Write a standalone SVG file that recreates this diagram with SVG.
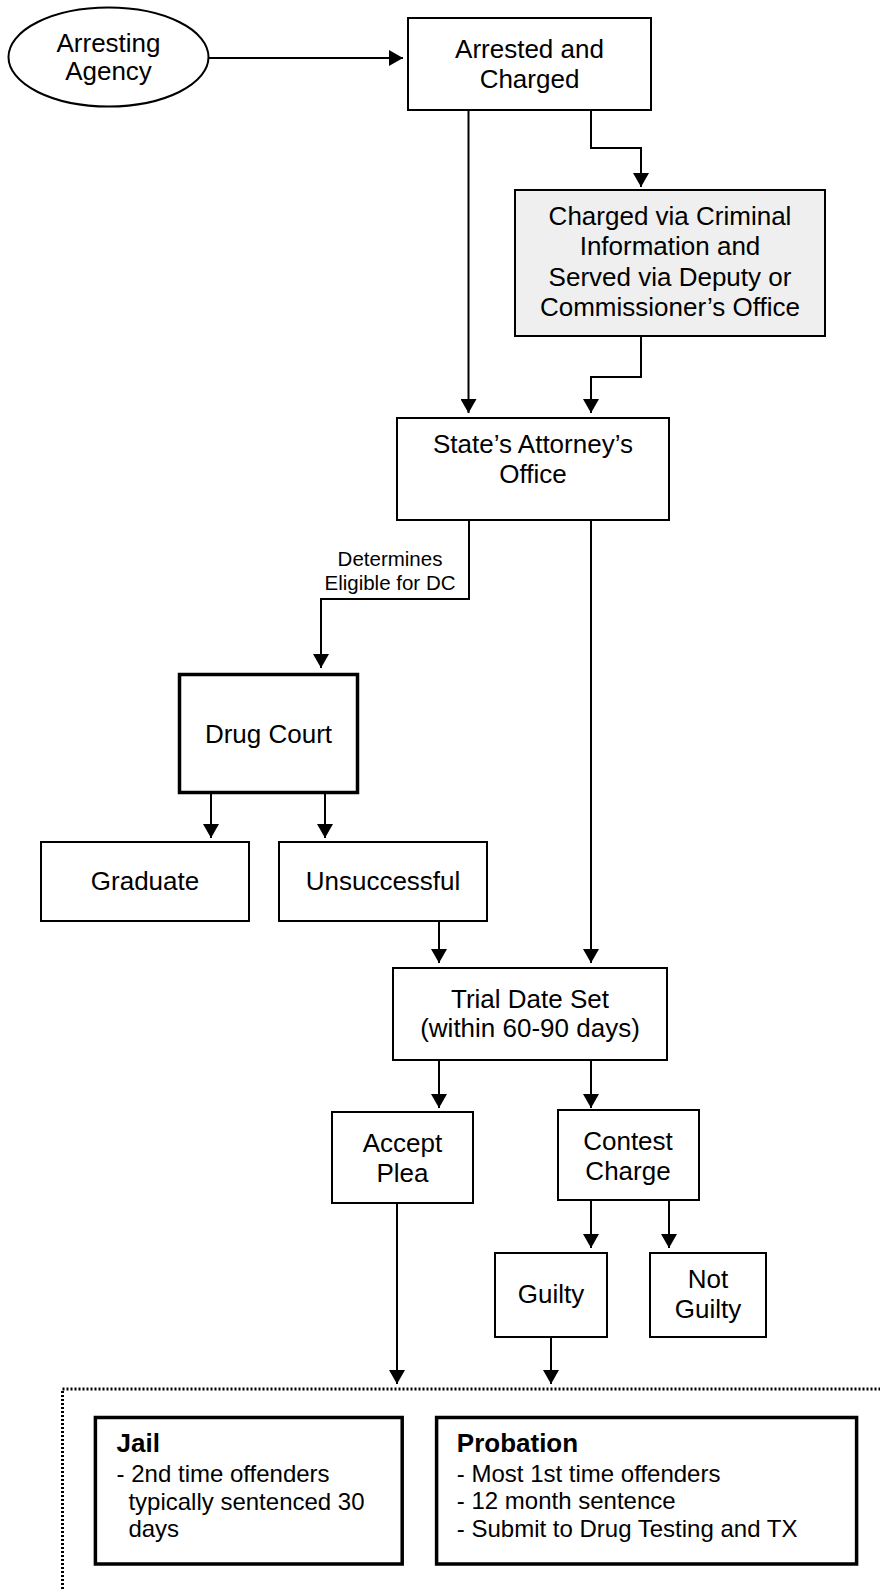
<svg xmlns="http://www.w3.org/2000/svg" width="880" height="1589" viewBox="0 0 880 1589">
<style>
.box{fill:#fff;stroke:#000;stroke-width:2}
.thick{fill:#fff;stroke:#000;stroke-width:3.5}
.gray{fill:#efefef;stroke:#000;stroke-width:2}
.t{font-family:"Liberation Sans",Arial,sans-serif;font-size:26px;fill:#000;text-anchor:middle}
.lbl{font-family:"Liberation Sans",Arial,sans-serif;font-size:20.5px;fill:#000;text-anchor:middle}
.l{font-family:"Liberation Sans",Arial,sans-serif;font-size:24px;fill:#000}
.b{font-family:"Liberation Sans",Arial,sans-serif;font-size:26px;font-weight:bold;fill:#000}
.c{fill:none;stroke:#000;stroke-width:2;marker-end:url(#ah)}
</style>
<defs>
<marker id="ah" viewBox="0 0 14 16" refX="14" refY="8" markerUnits="userSpaceOnUse" markerWidth="14" markerHeight="16" orient="auto">
<path d="M0,0 L14,8 L0,16 z" fill="#000"/>
</marker>
</defs>
<rect width="880" height="1589" fill="#fff"/>

<g id="connectors">
<path class="c" d="M209,58 H403"/>
<path class="c" d="M468.5,110 V413"/>
<path class="c" d="M591,110 V148 H641 V187"/>
<path class="c" d="M641,336 V377 H591 V413"/>
<path class="c" d="M469,520 V599 H321 V668"/>
<path class="c" d="M211,794 V838"/>
<path class="c" d="M325,794 V838"/>
<path class="c" d="M439,921 V963"/>
<path class="c" d="M591,520 V963"/>
<path class="c" d="M439,1060 V1108"/>
<path class="c" d="M591,1060 V1108"/>
<path class="c" d="M591,1200 V1248"/>
<path class="c" d="M669,1200 V1248"/>
<path class="c" d="M397,1203 V1384"/>
<path class="c" d="M551,1337 V1384"/>
</g>

<g id="sentence-frame">
<rect x="62.5" y="1389" width="900" height="300" fill="none" stroke="#000" stroke-width="3" stroke-dasharray="2 2"/>
</g>

<g id="arresting-agency">
<ellipse cx="108.5" cy="57" rx="100" ry="49.5" fill="#fff" stroke="#000" stroke-width="2"/>
<text class="t" x="108.5" y="52">Arresting</text>
<text class="t" x="108.5" y="80">Agency</text>
</g>

<g id="arrested-charged">
<rect class="box" x="408" y="18" width="243" height="92"/>
<text class="t" x="529.5" y="58">Arrested and</text>
<text class="t" x="529.5" y="88">Charged</text>
</g>

<g id="criminal-information">
<rect class="gray" x="515" y="190" width="310" height="146"/>
<text class="t" x="670" y="225">Charged via Criminal</text>
<text class="t" x="670" y="255">Information and</text>
<text class="t" x="670" y="286">Served via Deputy or</text>
<text class="t" x="670" y="316">Commissioner’s Office</text>
</g>

<g id="states-attorney">
<rect class="box" x="397" y="418" width="272" height="102"/>
<text class="t" x="533" y="453">State’s Attorney’s</text>
<text class="t" x="533" y="483">Office</text>
</g>

<g id="eligible-label">
<text class="lbl" x="390" y="566">Determines</text>
<text class="lbl" x="390" y="590">Eligible for DC</text>
</g>

<g id="drug-court">
<rect class="thick" x="179.5" y="674.5" width="178" height="118"/>
<text class="t" x="268.5" y="743">Drug Court</text>
</g>

<g id="graduate">
<rect class="box" x="41" y="842" width="208" height="79"/>
<text class="t" x="145" y="890">Graduate</text>
</g>

<g id="unsuccessful">
<rect class="box" x="279" y="842" width="208" height="79"/>
<text class="t" x="383" y="890">Unsuccessful</text>
</g>

<g id="trial-date">
<rect class="box" x="393" y="968" width="274" height="92"/>
<text class="t" x="530" y="1008">Trial Date Set</text>
<text class="t" x="530" y="1037">(within 60-90 days)</text>
</g>

<g id="accept-plea">
<rect class="box" x="332" y="1112" width="141" height="91"/>
<text class="t" x="402.5" y="1152">Accept</text>
<text class="t" x="402.5" y="1182">Plea</text>
</g>

<g id="contest-charge">
<rect class="box" x="558" y="1110" width="141" height="90"/>
<text class="t" x="628" y="1150">Contest</text>
<text class="t" x="628" y="1180">Charge</text>
</g>

<g id="guilty">
<rect class="box" x="495" y="1253" width="112" height="84"/>
<text class="t" x="551" y="1303">Guilty</text>
</g>

<g id="not-guilty">
<rect class="box" x="650" y="1253" width="116" height="84"/>
<text class="t" x="708" y="1288">Not</text>
<text class="t" x="708" y="1318">Guilty</text>
</g>

<g id="jail">
<rect class="thick" x="95.4" y="1417.5" width="306.8" height="146.5"/>
<text class="b" x="116.6" y="1452">Jail</text>
<text class="l" x="116.6" y="1482">- 2nd time offenders</text>
<text class="l" x="128.4" y="1510">typically sentenced 30</text>
<text class="l" x="128.4" y="1537">days</text>
</g>

<g id="probation">
<rect class="thick" x="436.6" y="1417.5" width="420" height="146.5"/>
<text class="b" x="456.8" y="1452">Probation</text>
<text class="l" x="456.8" y="1482">- Most 1st time offenders</text>
<text class="l" x="456.8" y="1509">- 12 month sentence</text>
<text class="l" x="456.8" y="1537">- Submit to Drug Testing and TX</text>
</g>
</svg>
